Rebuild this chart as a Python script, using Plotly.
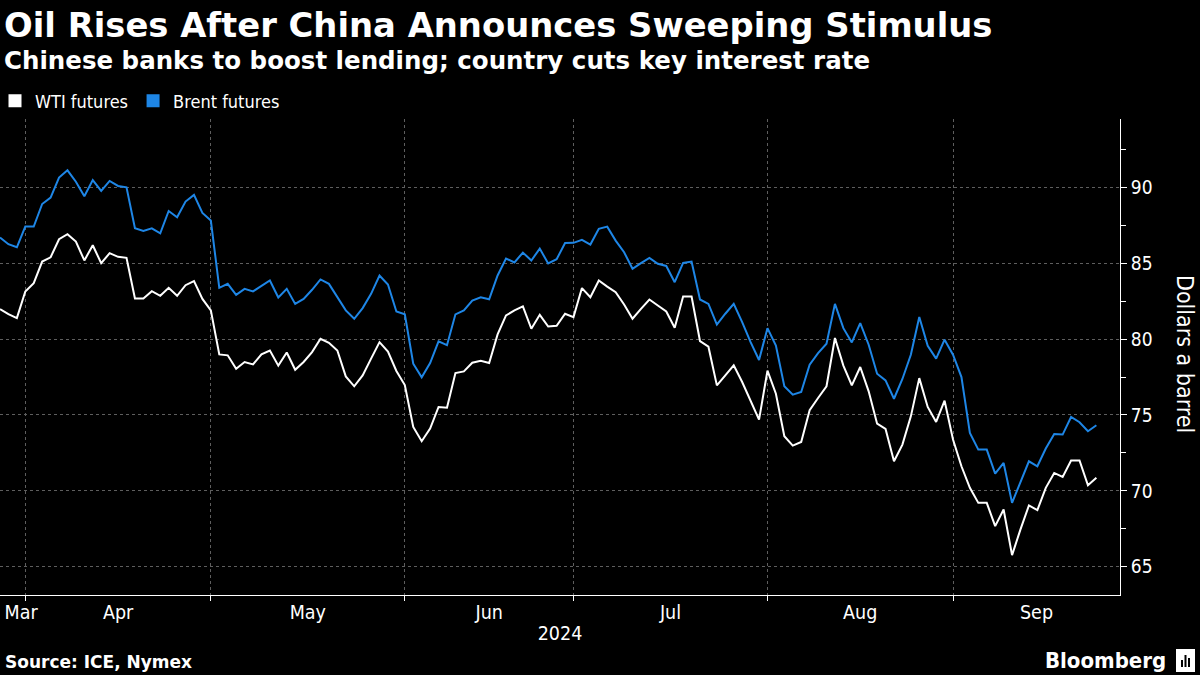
import pandas as pd
import plotly.graph_objects as go

# ---------------- data ----------------
dates = pd.bdate_range("2024-03-25", "2024-09-24").drop(pd.Timestamp("2024-03-29"))

wti = [
    81.97, 81.64, 81.38, 83.14, 83.68, 85.11, 85.39, 86.58, 86.91, 86.43,
    85.18, 86.18, 85.00, 85.66, 85.42, 85.35, 82.68, 82.68, 83.16, 82.85,
    83.38, 82.85, 83.55, 83.82, 82.65, 81.89, 78.99, 78.93, 78.05, 78.49,
    78.33, 78.99, 79.25, 78.25, 79.12, 77.98, 78.49, 79.14, 80.02, 79.76,
    79.25, 77.54, 76.89, 77.61, 78.71, 79.80, 79.18, 77.90, 76.97, 74.21,
    73.27, 74.10, 75.53, 75.48, 77.76, 77.87, 78.44, 78.57, 78.42, 80.31,
    81.56, 81.89, 82.15, 80.68, 81.60, 80.83, 80.88, 81.67, 81.45, 83.36,
    82.76, 83.86, 83.46, 83.09, 82.28, 81.34, 81.99, 82.61, 82.21, 81.82,
    80.75, 82.81, 82.81, 79.87, 79.50, 76.95, 77.61, 78.27, 77.17, 75.95,
    74.69, 77.92, 76.40, 73.60, 72.98, 73.22, 75.31, 76.12, 76.89, 80.07,
    78.25, 76.95, 78.16, 76.56, 74.43, 74.08, 71.95, 73.05, 74.91, 77.43,
    75.53, 74.54, 75.94, 73.38, 71.62, 70.20, 69.21, 69.21, 67.68, 68.77,
    65.77, 67.46, 69.04, 68.73, 70.20, 71.18, 70.92, 72.00, 72.00, 70.37,
    70.86,
]

brent = [
    86.69, 86.25, 86.05, 87.41, 87.41, 88.90, 89.32, 90.64, 91.12, 90.37,
    89.41, 90.48, 89.76, 90.42, 90.09, 90.00, 87.30, 87.13, 87.30, 86.97,
    88.44, 88.03, 89.06, 89.50, 88.31, 87.81, 83.38, 83.64, 82.92, 83.31,
    83.14, 83.53, 83.86, 82.74, 83.31, 82.32, 82.65, 83.25, 83.93, 83.64,
    82.76, 81.89, 81.34, 82.04, 82.98, 84.19, 83.60, 81.82, 81.63, 78.38,
    77.48, 78.42, 79.85, 79.60, 81.63, 81.89, 82.53, 82.75, 82.62, 84.19,
    85.31, 85.05, 85.70, 85.18, 85.96, 84.98, 85.26, 86.33, 86.34, 86.54,
    86.23, 87.26, 87.41, 86.49, 85.72, 84.63, 85.00, 85.35, 84.96, 84.82,
    83.75, 85.02, 85.11, 82.61, 82.32, 80.96, 81.67, 82.32, 81.12, 79.80,
    78.62, 80.72, 79.58, 76.89, 76.34, 76.51, 78.31, 79.08, 79.69, 82.32,
    80.72, 79.78, 81.05, 79.63, 77.72, 77.28, 76.07, 77.37, 78.97, 81.45,
    79.56, 78.71, 79.96, 78.97, 77.50, 73.82, 72.72, 72.72, 71.14, 71.84,
    69.21, 70.64, 71.95, 71.62, 72.79, 73.75, 73.71, 74.87, 74.52, 73.93,
    74.32,
]

series_names = ["WTI futures", "Brent futures"]
y_ticks = [65, 70, 75, 80, 85, 90]
year_label = "2024"

# ---------------- styling ----------------
W, H = 1200, 675
ML, MR, MT, MB = 0, 80, 119, 80
PLOT_W = W - ML - MR
PLOT_H = H - MT - MB
BG = "#000000"
WHITE = "#ffffff"
BLUE = "#1e86e6"
GRID = "#5e5e5e"
TITLE_FONT = "DejaVu Sans, Verdana, sans-serif"
BODY_FONT = "Liberation Sans Narrow, DejaVu Sans Condensed, Roboto Condensed, Arial Narrow, Roboto, sans-serif"

x = list(range(len(dates)))
X_MAX = 132.8
Y_RANGE = [63.14, 94.5]

# month boundaries (gridlines at last trading day of previous month)
months = list(dates.month)
first_idx = [i for i in range(1, len(months)) if months[i] != months[i - 1]]
boundaries = [i - 1 for i in first_idx]
edges = [0] + boundaries + [X_MAX]
label_pos = [(edges[k] + edges[k + 1]) / 2 for k in range(len(edges) - 1)]
label_pos[0] = max(label_pos[0], 2.5)
seg_starts = [0] + first_idx
label_txt = [dates[i].strftime("%b") for i in seg_starts]


def py(ypx):
    """pixel y (from top) -> paper y"""
    return (H - MB - ypx) / PLOT_H


def px(xpx):
    return (xpx - ML) / PLOT_W


fig = go.Figure()
fig.add_trace(go.Scatter(x=x, y=wti, mode="lines", line=dict(color=WHITE, width=2),
                         name=series_names[0], showlegend=False, legendgroup="wti"))
fig.add_trace(go.Scatter(x=x, y=brent, mode="lines", line=dict(color=BLUE, width=2),
                         name=series_names[1], showlegend=False, legendgroup="brent"))
# legend entries with square keys
fig.add_trace(go.Scatter(x=[None], y=[None], mode="markers",
                         marker=dict(symbol="square", size=11, color=WHITE,
                                     line=dict(width=2, color=WHITE)),
                         name=series_names[0], legendgroup="wti"))
fig.add_trace(go.Scatter(x=[None], y=[None], mode="markers",
                         marker=dict(symbol="square", size=11, color=BLUE,
                                     line=dict(width=2, color=BLUE)),
                         name=series_names[1], legendgroup="brent"))

fig.update_layout(
    width=W, height=H,
    margin=dict(l=ML, r=MR, t=MT, b=MB, autoexpand=False),
    paper_bgcolor=BG, plot_bgcolor=BG,
    font=dict(family=BODY_FONT, color=WHITE, size=16),
    showlegend=True,
    legend=dict(orientation="h", x=px(-5), xanchor="left", y=py(101), yanchor="middle",
                font=dict(size=18, color=WHITE, family=BODY_FONT),
                bgcolor="rgba(0,0,0,0)", itemsizing="trace", tracegroupgap=0),
    xaxis=dict(
        range=[0, X_MAX], showgrid=False, zeroline=False,
        tickmode="array", tickvals=label_pos, ticktext=label_txt, ticks="",
        tickfont=dict(size=19.5, color=WHITE, family=BODY_FONT),
        showline=True, linecolor=WHITE, linewidth=1,
        minor=dict(tickmode="array", tickvals=boundaries, ticks="outside", ticklen=5,
                   tickcolor=WHITE, tickwidth=1, showgrid=True, gridcolor=GRID,
                   griddash="dot", gridwidth=1),
        title=dict(text=year_label, font=dict(size=19.5, color=WHITE, family=BODY_FONT), standoff=2),
        fixedrange=True,
    ),
    yaxis=dict(
        side="right", range=Y_RANGE, tickmode="array", tickvals=y_ticks,
        ticks="outside", ticklen=6, tickcolor=WHITE, tickwidth=1,
        showline=True, linecolor=WHITE, linewidth=1,
        showgrid=True, gridcolor=GRID, griddash="dot", gridwidth=1, zeroline=False,
        tickfont=dict(size=19, color=WHITE, family=BODY_FONT),
        minor=dict(dtick=2.5, tick0=0, ticks="outside", ticklen=5, tickcolor=WHITE,
                   tickwidth=1, showgrid=False),
        fixedrange=True,
    ),
    annotations=[
        dict(text="<b>Oil Rises After China Announces Sweeping Stimulus</b>",
             xref="paper", yref="paper", x=px(2), y=py(25), xanchor="left", yanchor="middle",
             showarrow=False, font=dict(family=TITLE_FONT, size=33.8, color=WHITE)),
        dict(text="<b>Chinese banks to boost lending; country cuts key interest rate</b>",
             xref="paper", yref="paper", x=px(2), y=py(60), xanchor="left", yanchor="middle",
             showarrow=False, font=dict(family=TITLE_FONT, size=24.5, color=WHITE)),
        dict(text="Dollars a barrel", textangle=90,
             xref="paper", yref="paper", x=px(1185), y=py(354), xanchor="center", yanchor="middle",
             showarrow=False, font=dict(family=BODY_FONT, size=23, color=WHITE)),
        dict(text="<b>Source: ICE, Nymex</b>",
             xref="paper", yref="paper", x=px(3), y=py(662), xanchor="left", yanchor="middle",
             showarrow=False, font=dict(family=TITLE_FONT, size=17, color=WHITE)),
        dict(text="<b>Bloomberg</b>",
             xref="paper", yref="paper", x=px(1168), y=py(660), xanchor="right", yanchor="middle",
             showarrow=False, font=dict(family=BODY_FONT, size=22, color=WHITE)),
    ],
    shapes=[
        dict(type="rect", xref="paper", yref="paper", x0=px(1176), x1=px(1195),
             y0=py(672), y1=py(649), fillcolor=WHITE, line=dict(width=0)),
        dict(type="rect", xref="paper", yref="paper", x0=px(1181), x1=px(1183),
             y0=py(667), y1=py(660), fillcolor=BG, line=dict(width=0)),
        dict(type="rect", xref="paper", yref="paper", x0=px(1184.5), x1=px(1186.5),
             y0=py(667), y1=py(655), fillcolor=BG, line=dict(width=0)),
        dict(type="rect", xref="paper", yref="paper", x0=px(1188), x1=px(1190),
             y0=py(667), y1=py(658), fillcolor=BG, line=dict(width=0)),
    ],
)

fig.write_html(
    "out.html",
    config={"displayModeBar": False, "staticPlot": False},
    post_script="document.body.style.margin='0';document.body.style.background='#000';"
                "document.documentElement.style.overflow='hidden';",
)
